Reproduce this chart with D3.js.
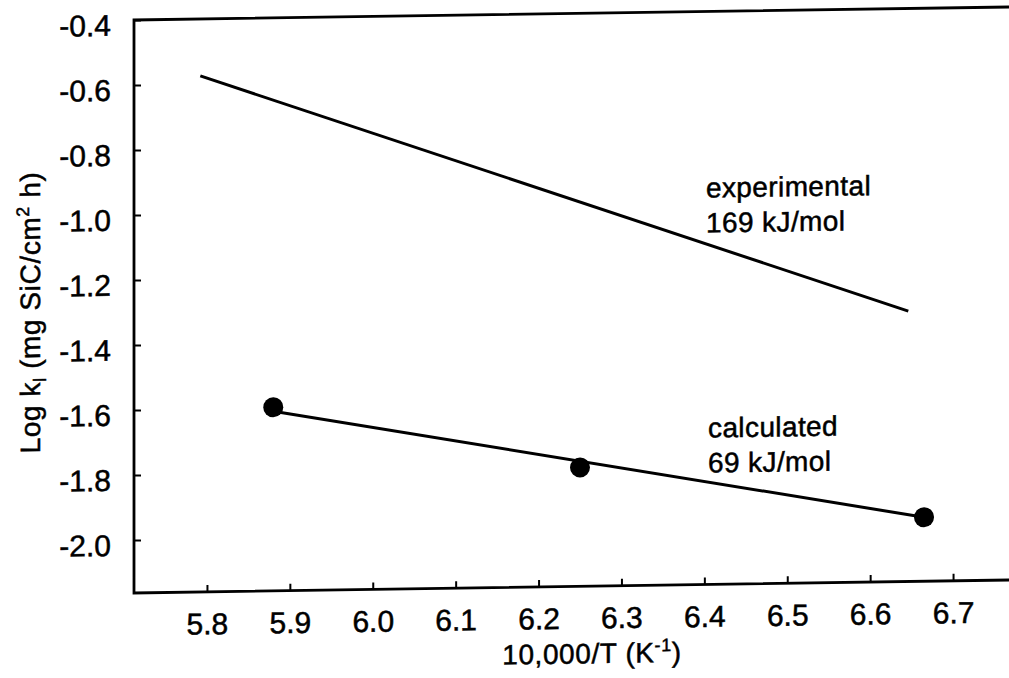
<!DOCTYPE html>
<html>
<head>
<meta charset="utf-8">
<script src="https://cdn.jsdelivr.net/npm/d3@7"></script>
<style>
  body { margin: 0; background: #fff; }
  text { font-family: "Liberation Sans", Arial, Helvetica, sans-serif; fill: #000; }
</style>
</head>
<body>
<svg id="chart" width="1009" height="678"></svg>
<script>
// Axis ticks
const xTicks = [5.8, 5.9, 6.0, 6.1, 6.2, 6.3, 6.4, 6.5, 6.6, 6.7];
const yTicks = [-0.4, -0.6, -0.8, -1.0, -1.2, -1.4, -1.6, -1.8, -2.0];

// Calculated rate constants (1700, 1600, 1500 K)
const calcInvT = [5.880, 6.250, 6.665];
const calcLogK = [-1.598, -1.797, -1.966];

// Arrhenius fit through the calculated points
const calcFitInvT = [5.880, 6.665];
const calcFitLogK = [-1.610, -1.966];

// Experimental Arrhenius line
const expFitInvT = [5.792, 6.646];
const expFitLogK = [-0.575, -1.331];

const svg = d3.select("#chart");
const plotLeft = 134, plotRight = 1060, plotTop = 20, plotBottom = 593;
const tickFont = 30;
const titleFont = 28;

const x = d3.scaleLinear().domain([5.712, 6.829]).range([plotLeft, plotRight]);
const y = d3.scaleLinear().domain([-2.163, -0.4]).range([plotBottom, plotTop]);

// horizontal edges of the figure slope gently upward to the right
const g = svg.append("g")
  .attr("transform", `translate(${plotLeft},${plotBottom}) skewY(-0.85) translate(${-plotLeft},${-plotBottom})`);

// frame: top, left and bottom edges (open on the right)
g.append("path")
  .attr("d", `M${plotRight},${plotTop} H${plotLeft} V${plotBottom} H${plotRight}`)
  .attr("fill", "none")
  .attr("stroke", "#000")
  .attr("stroke-width", 2.8);

const fmt = d => d.toFixed(1);

const xAxis = g.append("g")
  .attr("transform", `translate(0,${plotBottom})`)
  .call(d3.axisBottom(x).tickValues(xTicks).tickSize(-7).tickPadding(21).tickFormat(fmt));
xAxis.select(".domain").remove();

const yAxis = g.append("g")
  .attr("transform", `translate(${plotLeft},0)`)
  .call(d3.axisLeft(y).tickValues(yTicks).tickSize(-7).tickPadding(23).tickFormat(fmt));
yAxis.select(".domain").remove();

[xAxis, yAxis].forEach(a => {
  a.selectAll(".tick line").attr("stroke", "#000").attr("stroke-width", 2);
  a.selectAll(".tick text")
    .attr("font-size", tickFont)
    .attr("font-family", "Liberation Sans, Arial, sans-serif")
    .attr("fill", "#000")
    .attr("stroke", "#000")
    .attr("stroke-width", 0.5);
});
yAxis.selectAll(".tick text").attr("dy", "0.5em");

// experimental line
const line = d3.line().x(d => x(d[0])).y(d => y(d[1]));
g.append("path")
  .datum(d3.zip(expFitInvT, expFitLogK))
  .attr("d", line)
  .attr("fill", "none")
  .attr("stroke", "#000")
  .attr("stroke-width", 3);

// calculated fit line
g.append("path")
  .datum(d3.zip(calcFitInvT, calcFitLogK))
  .attr("d", line)
  .attr("fill", "none")
  .attr("stroke", "#000")
  .attr("stroke-width", 3);

// calculated points
g.selectAll("circle.calc")
  .data(d3.zip(calcInvT, calcLogK))
  .join("circle")
  .attr("class", "calc")
  .attr("cx", d => x(d[0]))
  .attr("cy", d => y(d[1]))
  .attr("r", 10)
  .attr("fill", "#000");

// line annotations
function label(lines, px, py) {
  const t = g.append("text")
    .attr("font-size", 28)
    .attr("letter-spacing", 0.4)
    .attr("stroke", "#000")
    .attr("stroke-width", 0.5);
  lines.forEach((s, i) => t.append("tspan").attr("x", px).attr("y", py + i * 35).text(s));
}
label(["experimental", "169 kJ/mol"], 706, 206);
label(["calculated", "69 kJ/mol"], 708, 446);

// x-axis title
const xt = g.append("text")
  .attr("x", 592).attr("y", 670)
  .attr("text-anchor", "middle")
  .attr("font-size", titleFont)
  .attr("letter-spacing", 0.6)
  .attr("stroke", "#000")
  .attr("stroke-width", 0.5);
xt.append("tspan").text("10,000/T (K");
xt.append("tspan").attr("font-size", 18).attr("dy", -11).text("-1");
xt.append("tspan").attr("dy", 11).text(")");

// y-axis title
const yt = g.append("text")
  .attr("transform", "translate(40,311) rotate(-90)")
  .attr("text-anchor", "middle")
  .attr("font-size", titleFont)
  .attr("letter-spacing", 0.6)
  .attr("stroke", "#000")
  .attr("stroke-width", 0.5);
yt.append("tspan").text("Log k");
yt.append("tspan").attr("font-size", 18).attr("dy", 6).text("l");
yt.append("tspan").attr("dy", -6).text(" (mg SiC/cm");
yt.append("tspan").attr("font-size", 18).attr("dy", -11).text("2");
yt.append("tspan").attr("dy", 11).text(" h)");
</script>
</body>
</html>
